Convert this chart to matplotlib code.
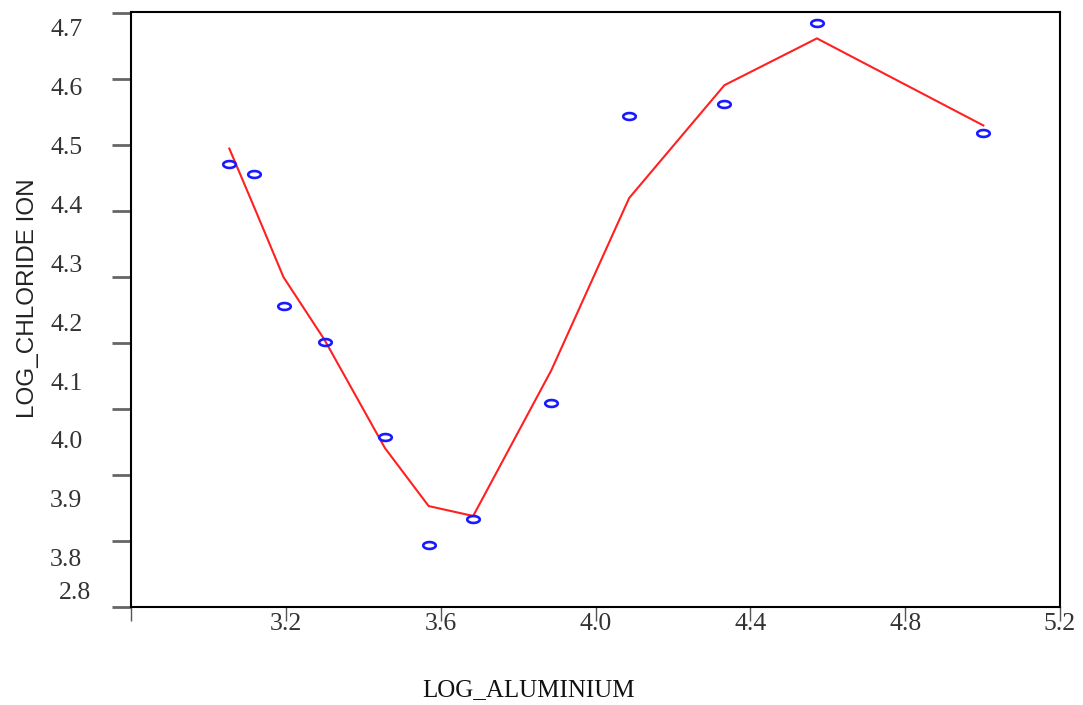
import matplotlib
matplotlib.use("Agg")
import matplotlib.pyplot as plt
import numpy as np
from matplotlib.path import Path

# observed points
log_al = [3.054, 3.119, 3.194, 3.300, 3.456, 3.569, 3.684, 3.886, 4.087, 4.333, 4.572, 5.002]
log_cl = [4.472, 4.456, 4.257, 4.202, 4.057, 3.894, 3.933, 4.110, 4.545, 4.562, 4.686, 4.518]
# fitted line
fit_cl = [4.495, 4.405, 4.300, 4.205, 4.041, 3.953, 3.938, 4.159, 4.420, 4.591, 4.662, 4.530]

x_ticks = [2.8, 3.2, 3.6, 4.0, 4.4, 4.8, 5.2]
x_labels = ["", "3.2", "3.6", "4.0", "4.4", "4.8", "5.2"]
y_ticks = [4.7, 4.6, 4.5, 4.4, 4.3, 4.2, 4.1, 4.0, 3.9, 3.8]
y_labels = ["4.7", "4.6", "4.5", "4.4", "4.3", "4.2", "4.1", "4.0", "3.9", "3.8"]

# small flat ellipse marker
t = np.linspace(0, 2 * np.pi, 60)
ellipse = Path(np.column_stack([np.cos(t), 0.55 * np.sin(t)]), closed=True)

fig = plt.figure(figsize=(10.83, 7.05), dpi=100)
ax = fig.add_axes([131 / 1083, 1 - 607 / 705, (1060 - 131) / 1083, (607 - 12) / 705])

ax.plot(log_al, fit_cl, color="#ff2020", lw=1.5, zorder=2)
ax.plot(log_al, log_cl, ls="none", marker=ellipse, ms=9, mfc="none",
        mec="#1a1aff", mew=1.9, zorder=3)

ax.set_xlim(2.8, 5.2)
ax.set_ylim(3.8, 4.702)

for s in ax.spines.values():
    s.set_linewidth(1.5)
    s.set_color("black")

serif = "Liberation Serif"
ax.set_xticks(x_ticks)
ax.set_xticklabels(x_labels, fontfamily=serif, fontsize=18.5, color="#333333")
ax.tick_params(axis="x", length=10, width=1, color="#555555", pad=-6)

# tick marks where values are, labels drawn where the original puts them
ax.set_yticks(y_ticks, minor=True)
ax.tick_params(axis="y", which="minor", length=14, width=2, color="#666666")
label_pos = [4.679 - k * 0.0894 for k in range(len(y_labels))]
ax.set_yticks(label_pos)
ax.set_yticklabels(y_labels, fontfamily=serif, fontsize=18.5, color="#333333")
ax.tick_params(axis="y", which="major", length=0, pad=35)
ax.text(-40 / 929, 3.821, "2.8", transform=ax.get_yaxis_transform(),
        ha="right", va="center", fontfamily=serif, fontsize=18.5, color="#333333")

fig.text(28 / 1083, 1 - 298 / 705, "LOG_CHLORIDE ION", rotation=90,
         ha="center", va="center", fontfamily="Liberation Sans", fontsize=17.5, color="#222222")
fig.text(529 / 1083, 1 - 690 / 705, "LOG_ALUMINIUM", ha="center", va="center",
         fontfamily=serif, fontsize=18, color="#111111")

fig.savefig("out.png", dpi=100)
